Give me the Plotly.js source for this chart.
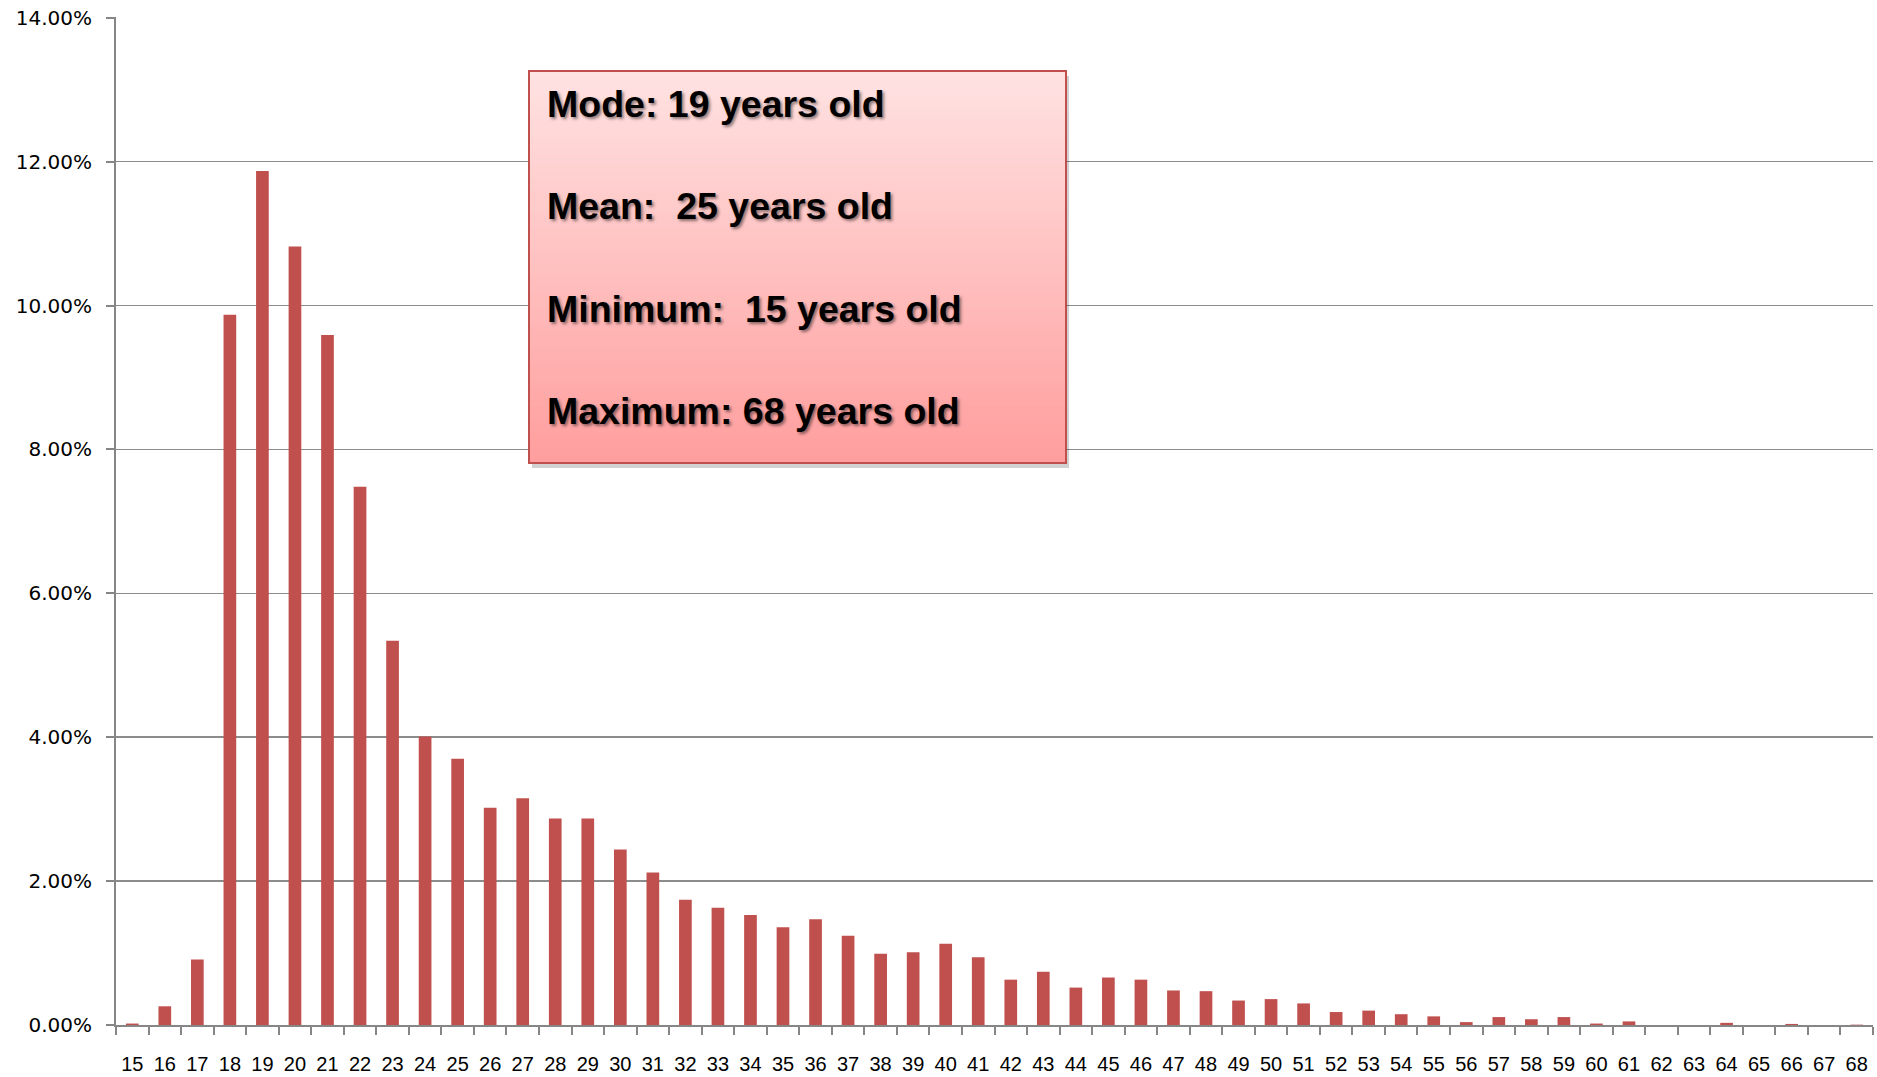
<!DOCTYPE html>
<html>
<head>
<meta charset="utf-8">
<script src="https://cdn.plot.ly/plotly-3.0.1.min.js"></script>
<style>html,body{margin:0;padding:0;background:#fff;}#chart{width:1877px;height:1077px;}</style>
</head>
<body>
<div id="chart"></div>
<script>
const ages = ["15","16","17","18","19","20","21","22","23","24","25","26","27","28","29","30","31","32","33","34","35","36","37","38","39","40","41","42","43","44","45","46","47","48","49","50","51","52","53","54","55","56","57","58","59","60","61","62","63","64","65","66","67","68"];
const sharePct = [0.02,0.26,0.91,9.87,11.87,10.82,9.59,7.48,5.34,4.01,3.70,3.02,3.15,2.87,2.87,2.44,2.12,1.74,1.63,1.53,1.36,1.47,1.24,0.99,1.01,1.13,0.94,0.63,0.74,0.52,0.66,0.63,0.48,0.47,0.34,0.36,0.30,0.18,0.20,0.15,0.12,0.04,0.11,0.08,0.11,0.02,0.05,0,0,0.03,0,0.015,0,0.005];
const statLines = ["Mode: 19 years old","Mean:\u00a0 25 years old","Minimum:\u00a0 15 years old","Maximum: 68 years old"];

const shares = sharePct.map(v => v / 100);

const W = 1877, H = 1077;
const mL = 116, mR = 4, mT = 17, mB = 52;
const pw = W - mL - mR, ph = H - mT - mB;
const px = x => (x - mL) / pw;
const py = y => (H - mB - y) / ph;

const bx0 = 529, bx1 = 1066, by0 = 71, by1 = 463;
const shapes = [];
shapes.push({type:'rect', xref:'paper', yref:'paper', x0:px(bx0+3), x1:px(bx1+3), y0:py(by1+5), y1:py(by0+5), fillcolor:'rgba(0,0,0,0.18)', line:{width:0}, layer:'above'});
const N = 80;
const c0 = [255,226,226], c1 = [255,158,158];
for (let i = 0; i < N; i++) {
  const t = i / (N - 1);
  const c = c0.map((v, k) => Math.round(v + (c1[k] - v) * t));
  const ya = by0 + (by1 - by0) * i / N, yb = by0 + (by1 - by0) * (i + 1) / N + 0.6;
  shapes.push({type:'rect', xref:'paper', yref:'paper', x0:px(bx0), x1:px(bx1), y0:py(Math.min(yb, by1)), y1:py(ya), fillcolor:`rgb(${c[0]},${c[1]},${c[2]})`, line:{width:0}, layer:'above'});
}
shapes.push({type:'rect', xref:'paper', yref:'paper', x0:px(bx0), x1:px(bx1), y0:py(by1), y1:py(by0), fillcolor:'rgba(0,0,0,0)', line:{color:'#C0504D', width:2}, layer:'above'});

const lineY = [104, 206, 309, 411];
const annotations = statLines.map((t, i) => ({
  xref:'paper', yref:'paper', x:px(545), y:py(lineY[i]), xanchor:'left', yanchor:'middle',
  text:'<b>' + t + '</b>', showarrow:false,
  font:{family:'"Liberation Sans", Arial, sans-serif', size:37.5, color:'#000', shadow:'2px 2px 3px rgba(0,0,0,0.45)'}
}));

const trace = {
  type:'bar', x:ages, y:shares,
  marker:{color:'#C0504D', line:{width:0}},
  hoverinfo:'x+y'
};

const layout = {
  width:W, height:H,
  margin:{l:mL, r:mR, t:mT, b:mB, pad:0},
  paper_bgcolor:'#fff', plot_bgcolor:'#fff',
  showlegend:false,
  bargap:0.61,
  xaxis:{
    type:'category', tickson:'boundaries', ticks:'outside', ticklen:8, tickwidth:2, tickcolor:'#868686',
    showline:true, linecolor:'#868686', linewidth:2, showgrid:false, tickangle:0,
    tickfont:{family:'"Liberation Sans", Arial, sans-serif', size:20, color:'#000'},
    ticklabelstandoff:20
  },
  yaxis:{
    range:[0, 0.1401], dtick:0.02, tickformat:'.2%',
    ticks:'outside', ticklen:8, tickwidth:2, tickcolor:'#868686',
    showline:true, linecolor:'#868686', linewidth:2,
    showgrid:true, gridcolor:'#8c8c8c', gridwidth:1.5, zeroline:false,
    tickfont:{family:'"DejaVu Sans", Verdana, sans-serif', size:20, color:'#000'},
    ticklabelstandoff:10
  },
  shapes:shapes,
  annotations:annotations
};

Plotly.newPlot('chart', [trace], layout, {displayModeBar:false, staticPlot:true});
</script>
</body>
</html>
